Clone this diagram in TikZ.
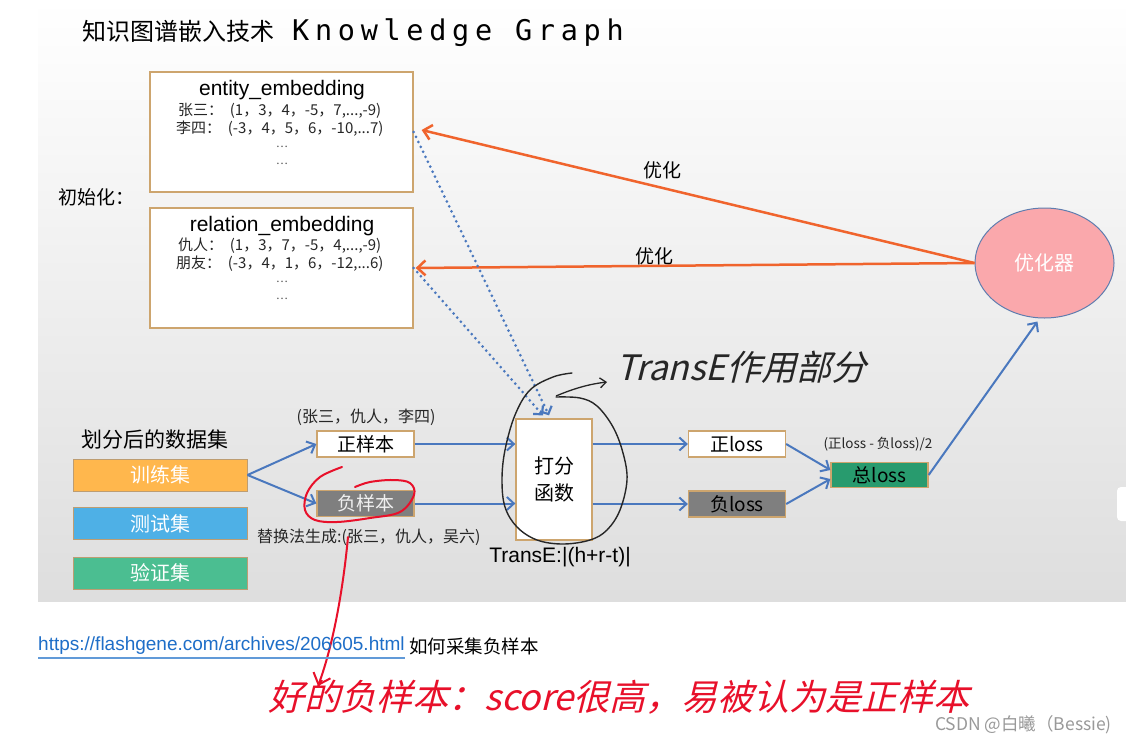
\documentclass[tikz,border=0pt]{standalone}
\usepackage{fontspec}
\setmainfont{Liberation Sans}
\newfontfamily\cjk{Noto Sans CJK SC}
\newfontfamily\hand{Noto Sans CJK SC}[FakeSlant=0.25]
\newfontfamily\titlemono{DejaVu Sans Mono}[LetterSpace=20]
\usetikzlibrary{arrows.meta,shapes.geometric}
\definecolor{boxedge}{RGB}{205,165,110}
\definecolor{barrow}{RGB}{74,120,190}
\definecolor{oarrow}{RGB}{240,100,45}
\definecolor{trainc}{RGB}{255,183,77}
\definecolor{testc}{RGB}{78,176,230}
\definecolor{validc}{RGB}{75,190,145}
\definecolor{negc}{RGB}{127,127,127}
\definecolor{totalc}{RGB}{40,155,110}
\definecolor{optc}{RGB}{250,168,172}
\definecolor{optedge}{RGB}{95,125,175}
\definecolor{linkc}{RGB}{30,110,200}
\definecolor{redhand}{RGB}{232,16,42}
\tikzset{
  ebox/.style={draw=boxedge, line width=1.3pt, fill=white, inner sep=0pt},
  setbox/.style={draw=boxedge!80!gray, line width=1pt, inner sep=0pt, minimum width=174pt, minimum height=32pt, text=white, font=\cjk\fontsize{20}{20}\selectfont},
  smallbox/.style={draw=boxedge, line width=1.3pt, inner sep=0pt, minimum width=97pt, minimum height=26pt, font=\cjk\fontsize{19}{19}\selectfont},
  barr/.style={draw=barrow, line width=2pt, -{Straight Barb[length=7pt,width=13pt,line width=2pt]}},
  oarr/.style={draw=oarrow, line width=2.5pt, -{Straight Barb[length=8pt,width=15pt,line width=2.5pt]}},
  darr/.style={draw=barrow, line width=3pt, dash pattern=on 0pt off 5.5pt, line cap=round, -{Straight Barb[length=6pt,width=13pt,line width=2.2pt,line cap=butt]}},
  rowtxt/.style={anchor=west, inner sep=0pt, font=\cjk\fontsize{15}{15}\selectfont, text=black!85},
  dots/.style={inner sep=0pt, font=\cjk\fontsize{11}{11}\selectfont, text=black!70},
  headtxt/.style={inner sep=0pt, font=\fontsize{21}{21}\selectfont},
  lbl/.style={inner sep=0pt, font=\cjk\fontsize{19}{19}\selectfont},
}
\begin{document}
\begin{tikzpicture}[x=1pt,y=-1pt]
\useasboundingbox (0,0) rectangle (1126,744);
\fill[white] (0,0) rectangle (1126,744);
\shade[top color=white, middle color=gray!7, bottom color=gray!26] (38,0) rectangle (1126,601);
\fill[white, rounded corners=4pt] (1117,487) rectangle (1130,521);

% title
\node[anchor=west, inner sep=0pt] (title) at (82,33) {\cjk\fontsize{24}{24}\selectfont 知识图谱嵌入技术\hspace{18pt}\titlemono\fontsize{28.5}{28.5}\selectfont Knowledge Graph};

% embedding boxes
\node[ebox, minimum width=263pt, minimum height=120pt] (ent) at (281.5,132) {};
\node[headtxt] (enth) at (282,90) {entity\_embedding};
\node[rowtxt] (ent1) at (178,111) {张三：\ \ (1，3，4，-5，7,...,-9)};
\node[rowtxt] (ent2) at (176,129) {李四：\ \ (-3，4，5，6，-10,...7)};
\node[dots] (ent3) at (282,147) {…};
\node[dots] (ent4) at (282,164) {…};

\node[ebox, minimum width=263pt, minimum height=120pt] (rel) at (281.5,268) {};
\node[headtxt] (relh) at (282,226) {relation\_embedding};
\node[rowtxt] (rel1) at (178,246) {仇人：\ \ (1，3，7，-5，4,...,-9)};
\node[rowtxt] (rel2) at (176,264) {朋友：\ \ (-3，4，1，6，-12,...6)};
\node[dots] (rel3) at (282,282) {…};
\node[dots] (rel4) at (282,299) {…};

\node[anchor=west, inner sep=0pt, font=\cjk\fontsize{19}{19}\selectfont] (init) at (58,197) {初始化：};

% optimizer
\node[ellipse, fill=optc, draw=optedge, line width=1pt, minimum width=139pt, minimum height=110pt, inner sep=0pt, text=white, font=\cjk\fontsize{20}{20}\selectfont] (opt) at (1044.5,263) {优化器};

\draw[oarr] (opt.west) -- ([xshift=8pt,yshift=2pt]ent.east);
\draw[oarr] (opt.west) -- ([xshift=2pt]rel.east);
\node[lbl] (o1) at (662,170) {优化};
\node[lbl] (o2) at (654,256) {优化};

% scoring
\node[ebox, minimum width=76pt, minimum height=121pt, align=center, font=\cjk\fontsize{20}{27}\selectfont] (score) at (554,479.5) {打分\\函数};
\node[inner sep=0pt, font=\fontsize{21}{21}\selectfont] (transe) at (560,557) {TransE:|(h+r-t)|};

\draw[darr] (ent.east) -- ([xshift=-5pt,yshift=3pt]score.north);
\draw[darr] (rel.east) -- ([xshift=-11pt,yshift=3pt]score.north);

% datasets
\node[anchor=west, inner sep=0pt, font=\cjk\fontsize{21}{21}\selectfont] (split) at (81,440) {划分后的数据集};
\node[setbox, fill=trainc] (train) at (160,475) {训练集};
\node[setbox, fill=testc] (test) at (160,523.5) {测试集};
\node[setbox, fill=validc] (valid) at (160,573) {验证集};

\node[smallbox, fill=white] (pos) at (365.5,444) {正样本};
\node[smallbox, fill=negc, text=white!88!gray] (neg) at (365.5,503.5) {负样本};
\node[inner sep=0pt, font=\cjk\fontsize{16}{16}\selectfont, text=black!85] (postxt) at (366,417) {(张三，仇人，李四)};
\node[anchor=west, inner sep=0pt, font=\cjk\fontsize{16}{16}\selectfont, text=black!85] (negtxt) at (257,537) {替换法生成:(张三，仇人，吴六)};

\draw[barr] (train.east) -- (pos.west);
\draw[barr] (train.east) -- (neg.west);
\draw[barr] (pos.east) -- (score.west |- pos.east);
\draw[barr] (neg.east) -- (score.west |- neg.east);

% losses
\node[smallbox, fill=white] (ploss) at (737,444) {正loss};
\node[smallbox, fill=negc] (nloss) at (737,504) {负loss};
\node[smallbox, fill=totalc, minimum height=25pt] (tloss) at (879.5,475) {总loss};
\node[inner sep=0pt, font=\cjk\fontsize{13.5}{13.5}\selectfont, text=black!85] (avg) at (878,444) {(正loss - 负loss)/2};

\draw[barr] (score.east |- ploss.west) -- (ploss.west);
\draw[barr] (score.east |- nloss.west) -- (nloss.west);
\draw[barr] (ploss.east) -- ([yshift=5pt]tloss.west);
\draw[barr] (nloss.east) -- ([yshift=-4pt]tloss.west);
\draw[barr] (tloss.east) -- ([xshift=-7pt,yshift=-3pt]opt.south);

% handwriting black
\draw[black!85, line width=1.4pt, line cap=round, line join=round] plot[smooth, tension=0.6] coordinates {(572,373) (553,377) (530,390) (515,415) (505,450) (502,480) (505,507) (517,527) (537,540) (563,544) (590,540) (607,530) (620,510) (627,480) (623,453) (613,427) (597,406) (580,398) (556,397)};
\coordinate (hs) at (556,396);
\coordinate (he) at (607,382);
\draw[black!85, line width=1.3pt, -{Straight Barb[length=6pt,width=10pt,line width=1.3pt]}] (hs) .. controls (575,388) and (590,384) .. (he);
\node[anchor=west, inner sep=0pt, font=\hand\fontsize{35}{35}\selectfont, text=black!85] (handtxt) at (616,367) {TransE作用部分};

% handwriting red
\draw[redhand, line width=2pt, line cap=round] plot[smooth, tension=0.6] coordinates {(342,467) (320,477) (307,493) (305,510) (315,520) (337,522) (370,518) (400,512) (414,495) (410,483) (393,480) (370,482) (355,487)};
\coordinate (rs) at (348,537);
\coordinate (re) at (318,686);
\draw[redhand, line width=2pt, line cap=round, -{Straight Barb[length=10pt,width=18pt,line width=2pt]}] (rs) .. controls (344,580) and (335,640) .. (re);

% link
\node[anchor=west, inner sep=0pt, font=\fontsize{19}{19}\selectfont, text=linkc] (link) at (38,646) {https://flashgene.com/archives/206605.html};
\node[anchor=west, inner sep=0pt, font=\cjk\fontsize{18.5}{18.5}\selectfont] (howto) at ([xshift=4pt]link.east) {如何采集负样本};
\draw[linkc!70, line width=1.2pt] ([yshift=-3pt]link.south west) -- ([yshift=-3pt]link.south east);

\node[anchor=west, inner sep=0pt, font=\hand\fontsize{36}{36}\selectfont, text=redhand] (redtxt) at (268,697) {好的负样本：score很高，易被认为是正样本};

\node[anchor=east, inner sep=0pt, font=\cjk\fontsize{17.5}{17.5}\selectfont, text=gray!80] (csdn) at (1112,725) {CSDN @白曦（Bessie)};
\end{tikzpicture}
\end{document}
